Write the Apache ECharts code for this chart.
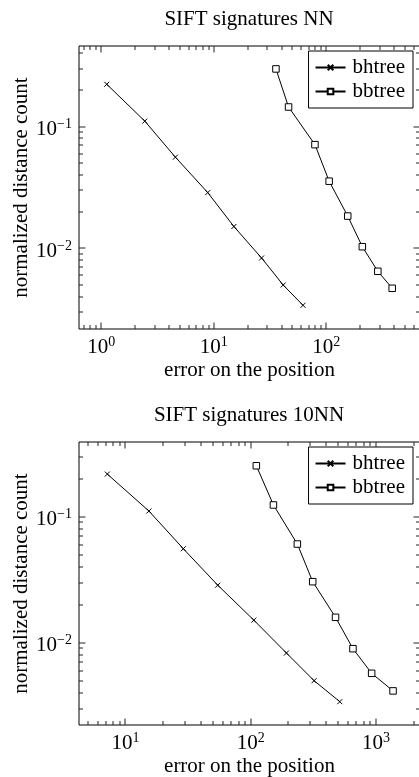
<!DOCTYPE html>
<html>
<head>
<meta charset="utf-8">
<script src="https://cdn.jsdelivr.net/npm/echarts@6/dist/echarts.min.js"></script>
<style>
  html, body { margin: 0; padding: 0; background: #fff; }
  #main { width: 419px; height: 777px; }
</style>
</head>
<body>
<div id="main"></div>
<script>
var titles = ["SIFT signatures NN", "SIFT signatures 10NN"];
var seriesNames = ["bhtree", "bbtree"];
var xName = "error on the position";
var yName = "normalized distance count";

// NN
var nnBhtreeX = [1.12, 2.44, 4.56, 8.84, 15.1, 26.6, 41.4, 62.1];
var nnBhtreeY = [0.223, 0.111, 0.0561, 0.0287, 0.0151, 0.00832, 0.00499, 0.0034];
var nnBbtreeX = [35.7, 46.2, 79.3, 106, 155, 209, 287, 385];
var nnBbtreeY = [0.298, 0.145, 0.0711, 0.0356, 0.0184, 0.0103, 0.00647, 0.00469];

// 10NN
var knnBhtreeX = [7.17, 15.4, 29.0, 54.6, 106, 193, 321, 515];
var knnBhtreeY = [0.218, 0.111, 0.0557, 0.0286, 0.0151, 0.00828, 0.00499, 0.0034];
var knnBbtreeX = [111, 152, 236, 313, 476, 656, 925, 1371];
var knnBbtreeY = [0.254, 0.124, 0.0607, 0.0305, 0.0159, 0.00896, 0.00571, 0.00414];

// axis ranges and labelled ticks
var xRanges = [[0.635, 680], [4.26, 2250]];
var yRanges = [[0.00217, 0.46], [0.00222, 0.392]];
var xMajor = [[1, 10, 100], [10, 100, 1000]];
var yMajor = [[0.01, 0.1], [0.01, 0.1]];

var FONT = "Liberation Serif";
var gridTops = [46, 442];
var gridH = 283;

function zip(xs, ys) {
  return xs.map(function (x, i) { return [x, ys[i]]; });
}

function isMajor(v, list) {
  for (var i = 0; i < list.length; i++) {
    if (Math.abs(v - list[i]) < list[i] * 1e-6) return true;
  }
  return false;
}

function powLabel(v) {
  var e = Math.round(Math.log10(v));
  return "{b|10}{s|" + (e < 0 ? "\u2212" + (-e) : e) + "}";
}

// tick rows: [x, y, kind (0 = x tick, 1 = y tick), length]
function tickRows(k) {
  var rows = [];
  var xr = xRanges[k], yr = yRanges[k];
  function minors(r, cb) {
    var p0 = Math.floor(Math.log10(r[0])), p1 = Math.ceil(Math.log10(r[1]));
    for (var p = p0; p <= p1; p++) {
      for (var m = 2; m <= 9; m++) {
        var v = m * Math.pow(10, p);
        if (v > r[0] && v < r[1]) cb(v);
      }
    }
  }
  xMajor[k].forEach(function (v) { rows.push([v, yr[0], 0, 6.5]); });
  yMajor[k].forEach(function (v) { rows.push([xr[0], v, 1, 6.5]); });
  minors(xr, function (v) { rows.push([v, yr[0], 0, 4]); });
  minors(yr, function (v) { rows.push([xr[0], v, 1, 4]); });
  return rows;
}

// inward ticks on all four sides of the frame
function tickSeries(k) {
  var xr = xRanges[k], yr = yRanges[k];
  return {
    type: "custom",
    xAxisIndex: k,
    yAxisIndex: k,
    silent: true,
    data: tickRows(k),
    renderItem: function (params, api) {
      var len = api.value(3);
      var st = { fill: "#222" };
      var a, b;
      if (api.value(2) === 0) {
        a = api.coord([api.value(0), yr[0]]);
        b = api.coord([api.value(0), yr[1]]);
        var x = Math.round(a[0]) - 0.5;
        return {
          type: "group",
          children: [
            { type: "rect", shape: { x: x, y: a[1] - len, width: 1, height: len }, style: st },
            { type: "rect", shape: { x: x, y: b[1], width: 1, height: len }, style: st }
          ]
        };
      }
      a = api.coord([xr[0], api.value(1)]);
      b = api.coord([xr[1], api.value(1)]);
      var y = Math.round(a[1]) - 0.5;
      return {
        type: "group",
        children: [
          { type: "rect", shape: { x: a[0], y: y, width: len, height: 1 }, style: st },
          { type: "rect", shape: { x: b[0] - len, y: y, width: len, height: 1 }, style: st }
        ]
      };
    }
  };
}

var crossPath = "path://M0,0L10,10M0,10L10,0";

function lineSeries(k, name, data, isBox) {
  return {
    name: name,
    type: "line",
    xAxisIndex: k,
    yAxisIndex: k,
    data: data,
    symbol: isBox ? "rect" : crossPath,
    symbolSize: isBox ? 6.5 : 5,
    showSymbol: true,
    z: 3,
    lineStyle: { color: "#000", width: 1 },
    itemStyle: isBox
      ? { color: "#fff", borderColor: "#000", borderWidth: 1 }
      : { color: "#000", borderColor: "#000", borderWidth: 1 }
  };
}

var labelRich = {
  b: { fontFamily: FONT, fontSize: 21, color: "#000", lineHeight: 24 },
  s: { fontFamily: FONT, fontSize: 14, color: "#000", lineHeight: 14, verticalAlign: "top" }
};

var chart = echarts.init(document.getElementById("main"));

var option = {
  animation: false,
  backgroundColor: "#fff",
  title: titles.map(function (t, k) {
    return {
      text: t,
      left: 249,
      textAlign: "center",
      top: gridTops[k] - 37,
      padding: 0,
      textStyle: { fontFamily: FONT, fontSize: 21, fontWeight: "normal", color: "#000", lineHeight: 21 }
    };
  }),
  legend: [0, 1].map(function (k) {
    return {
      data: seriesNames,
      orient: "vertical",
      right: 6,
      top: gridTops[k] + 5,
      padding: [6, 8, 6, 6],
      itemGap: 3,
      itemWidth: 30,
      itemHeight: 7,
      borderColor: "#000",
      borderWidth: 1,
      borderRadius: 0,
      backgroundColor: "#fff",
      selectedMode: false,
      textStyle: { fontFamily: FONT, fontSize: 21, color: "#000", lineHeight: 20, padding: [0, 0, 0, 2] }
    };
  }),
  grid: [0, 1].map(function (k) {
    return {
      left: 79,
      width: 341,
      top: gridTops[k],
      height: gridH,
      outerBoundsMode: "none",
      show: true,
      borderColor: "#000",
      borderWidth: 1,
      backgroundColor: "transparent"
    };
  }),
  xAxis: [0, 1].map(function (k) {
    return {
      type: "log",
      logBase: 10,
      gridIndex: k,
      min: xRanges[k][0],
      max: xRanges[k][1],
      name: xName,
      nameLocation: "middle",
      nameGap: 31,
      nameMoveOverlap: false,
      nameTextStyle: { fontFamily: FONT, fontSize: 21, color: "#000" },
      axisLine: { show: false },
      axisTick: { show: false },
      splitLine: { show: false },
      axisLabel: {
        margin: 6,
        hideOverlap: false,
        formatter: function (v) { return isMajor(v, xMajor[k]) ? powLabel(v) : ""; },
        rich: labelRich
      }
    };
  }),
  yAxis: [0, 1].map(function (k) {
    return {
      type: "log",
      logBase: 10,
      gridIndex: k,
      min: yRanges[k][0],
      max: yRanges[k][1],
      name: yName,
      nameLocation: "middle",
      nameGap: 47,
      nameMoveOverlap: false,
      nameTextStyle: { fontFamily: FONT, fontSize: 21, color: "#000" },
      axisLine: { show: false },
      axisTick: { show: false },
      splitLine: { show: false },
      axisLabel: {
        margin: 7,
        padding: [6, 0, 0, 0],
        hideOverlap: false,
        formatter: function (v) { return isMajor(v, yMajor[k]) ? powLabel(v) : ""; },
        rich: labelRich
      }
    };
  }),
  series: [
    lineSeries(0, seriesNames[0], zip(nnBhtreeX, nnBhtreeY), false),
    lineSeries(0, seriesNames[1], zip(nnBbtreeX, nnBbtreeY), true),
    lineSeries(1, seriesNames[0], zip(knnBhtreeX, knnBhtreeY), false),
    lineSeries(1, seriesNames[1], zip(knnBbtreeX, knnBbtreeY), true),
    tickSeries(0),
    tickSeries(1)
  ]
};

chart.setOption(option);
</script>
</body>
</html>
